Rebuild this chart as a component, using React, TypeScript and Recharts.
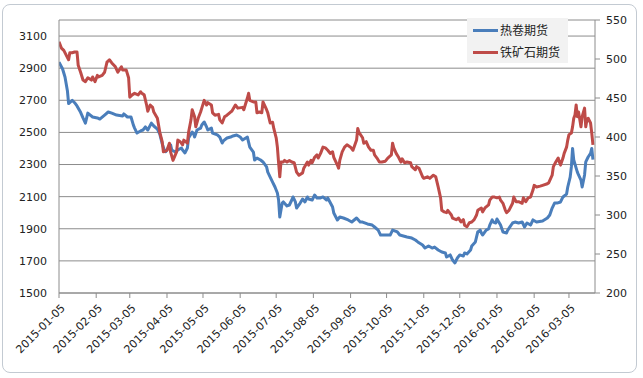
import React from "react";
import { LineChart, Line, XAxis, YAxis, CartesianGrid, Legend } from "recharts";

// x values are days counted from 2015-01-05 (the axis is a date axis)
const tickDays = [0, 31, 59, 90, 120, 151, 181, 212, 243, 273, 304, 334, 365, 396, 425];
const tickLabels = [
  "2015-01-05", "2015-02-05", "2015-03-05", "2015-04-05", "2015-05-05",
  "2015-06-05", "2015-07-05", "2015-08-05", "2015-09-05", "2015-10-05",
  "2015-11-05", "2015-12-05", "2016-01-05", "2016-02-05", "2016-03-05",
];

const leftTicks = [1500, 1700, 1900, 2100, 2300, 2500, 2700, 2900, 3100];
const rightTicks = [200, 250, 300, 350, 400, 450, 500, 550];

const hotName = "热卷期货";
const oreName = "铁矿石期货";

const hotDays = [
  0, 3, 5, 7, 8, 11, 13, 15, 18, 20, 22, 24, 28, 32, 34, 38, 41, 44, 48, 53,
  54, 57, 60, 62, 63, 65, 68, 70, 72, 74, 77, 79, 82, 84, 86, 88, 89, 91, 93, 94,
  97, 99, 102, 103, 105, 107, 108, 111, 112, 113, 115, 118, 119, 121, 123, 124, 127, 128, 132, 134,
  136, 137, 140, 143, 145, 148, 151, 153, 157, 158, 159, 162, 163, 165, 168, 170, 173, 174, 176, 178,
  180, 182, 183, 184, 186, 187, 190, 192, 194, 195, 197, 198, 201, 203, 205, 207, 208, 211, 213, 215,
  218, 220, 223, 224, 228, 229, 232, 234, 237, 241, 244, 248, 251, 253, 257, 261, 263, 266, 268, 272,
  276, 278, 282, 284, 287, 290, 294, 297, 299, 303, 305, 308, 311, 313, 316, 319, 322, 323, 326, 328,
  330, 332, 334, 337, 338, 340, 343, 344, 347, 348, 349, 351, 352, 353, 356, 358, 359, 361, 362, 364,
  365, 368, 370, 373, 374, 378, 380, 383, 386, 388, 390, 393, 395, 398, 403, 407, 409, 411, 413, 415,
  418, 420, 423, 424, 426, 427, 428, 429, 431, 432, 433, 435, 436, 438, 439, 441, 443, 444, 445,
];
const hotValues = [
  2938, 2895, 2845, 2760, 2680, 2700, 2685, 2665, 2625, 2590, 2558, 2620, 2596, 2590, 2583, 2608, 2627, 2620, 2608, 2602,
  2615, 2596, 2596, 2545, 2527, 2496, 2509, 2515, 2534, 2515, 2558, 2540, 2521, 2490, 2430, 2385, 2380, 2403, 2422, 2390,
  2378, 2390, 2403, 2390, 2372, 2403, 2465, 2502, 2496, 2471, 2515, 2527, 2546, 2565, 2534, 2515, 2527, 2496, 2484, 2471,
  2434, 2447, 2465, 2471, 2478, 2484, 2471, 2453, 2471, 2440, 2409, 2378, 2328, 2340, 2328, 2316, 2285, 2253, 2222, 2191,
  2160, 2123, 2079, 1973, 2060, 2067, 2042, 2048, 2079, 2098, 2067, 2029, 2060, 2085, 2067, 2098, 2085, 2079, 2110, 2092,
  2092, 2098, 2079, 2092, 2036, 1998, 1955, 1973, 1967, 1955, 1942, 1967, 1942, 1942, 1930, 1923, 1911, 1892, 1861, 1861,
  1861, 1892, 1880, 1861, 1855, 1849, 1842, 1830, 1818, 1799, 1780, 1793, 1780, 1786, 1768, 1755, 1749, 1724, 1737, 1705,
  1687, 1718, 1737, 1730, 1749, 1743, 1768, 1793, 1818, 1849, 1880, 1892, 1874, 1861, 1892, 1899, 1923, 1955, 1942, 1936,
  1961, 1923, 1880, 1874, 1892, 1936, 1942, 1936, 1942, 1911, 1936, 1923, 1955, 1942, 1948, 1967, 1986, 2029, 2060, 2060,
  2067, 2098, 2116, 2160, 2222, 2285, 2400, 2328, 2278, 2253, 2235, 2203, 2160, 2235, 2316, 2347, 2370, 2400, 2330,
];

const oreDays = [
  0, 2, 4, 6, 8, 9, 11, 13, 15, 16, 18, 20, 22, 24, 27, 28, 30, 32, 33, 36,
  38, 40, 42, 44, 47, 49, 52, 53, 56, 58, 59, 61, 63, 66, 68, 69, 71, 73, 74, 76,
  78, 79, 82, 84, 86, 87, 90, 92, 93, 95, 98, 99, 101, 103, 104, 107, 108, 110, 111, 113,
  114, 116, 118, 119, 121, 123, 124, 127, 128, 130, 133, 134, 136, 138, 140, 143, 144, 147, 149, 153,
  154, 157, 158, 159, 162, 164, 165, 167, 169, 170, 173, 174, 176, 178, 179, 181, 182, 183, 184, 185,
  187, 188, 190, 192, 194, 196, 198, 200, 203, 204, 207, 208, 210, 211, 213, 215, 216, 218, 220, 222,
  224, 226, 228, 229, 232, 233, 234, 236, 238, 240, 243, 245, 248, 249, 250, 253, 254, 256, 258, 260,
  262, 263, 265, 267, 269, 272, 274, 277, 278, 279, 281, 283, 285, 286, 288, 290, 293, 294, 297, 298,
  300, 303, 304, 307, 309, 312, 314, 316, 318, 319, 321, 323, 324, 327, 328, 331, 333, 335, 337, 338,
  340, 342, 344, 346, 348, 349, 352, 353, 355, 358, 359, 361, 363, 365, 367, 368, 370, 372, 373, 375,
  378, 379, 381, 383, 386, 387, 389, 391, 393, 395, 396, 398, 401, 403, 407, 408, 411, 412, 414, 416,
  417, 418, 420, 421, 423, 424, 425, 427, 428, 429, 430, 431, 432, 433, 435, 436, 438, 439, 440, 441,
  443, 444, 445,
];
const oreValues = [
  522, 514, 511, 505, 499, 508, 508, 509, 509, 492, 483, 473, 471, 476, 473, 477, 471, 479, 477, 479,
  483, 496, 499, 495, 490, 483, 490, 486, 486, 476, 451, 454, 456, 454, 458, 456, 454, 441, 433, 441,
  438, 432, 424, 406, 394, 381, 383, 392, 381, 370, 381, 396, 394, 390, 396, 392, 406, 422, 435, 426,
  413, 424, 432, 437, 447, 441, 444, 441, 431, 428, 429, 422, 418, 426, 428, 432, 433, 441, 437, 438,
  435, 450, 456, 447, 445, 445, 431, 432, 431, 445, 435, 431, 418, 419, 411, 399, 387, 367, 349, 368,
  368, 370, 368, 370, 368, 367, 355, 351, 354, 360, 368, 364, 370, 367, 374, 377, 373, 379, 387, 386,
  383, 379, 381, 374, 364, 360, 370, 381, 387, 390, 387, 383, 396, 411, 406, 399, 392, 394, 387, 383,
  383, 377, 373, 368, 368, 369, 373, 377, 392, 386, 379, 374, 368, 372, 367, 368, 367, 362, 358, 362,
  360, 349, 347, 349, 347, 351, 349, 336, 322, 306, 304, 303, 306, 300, 296, 294, 296, 291, 294, 287,
  285, 290, 291, 294, 300, 306, 309, 304, 309, 313, 319, 323, 323, 322, 323, 319, 315, 306, 303, 306,
  315, 323, 317, 317, 315, 322, 317, 322, 323, 332, 338, 336, 337, 338, 340, 341, 351, 362, 368, 373,
  368, 364, 373, 379, 387, 396, 403, 405, 413, 424, 428, 441, 426, 432, 413, 426, 437, 413, 422, 424,
  418, 405, 390,
];

const hotData = hotDays.map((d, i) => ({ day: d, value: hotValues[i] }));
const oreData = oreDays.map((d, i) => ({ day: d, value: oreValues[i] }));

const BLUE = "#4a7ebb";
const RED = "#be4b48";
const FONT = "'DejaVu Sans', Verdana, sans-serif";

function DateTick(props: any) {
  const { x, y, payload } = props;
  const label = tickLabels[tickDays.indexOf(payload.value)];
  const ax = x + 4;
  const ay = y + 6;
  return (
    <text
      x={ax}
      y={ay}
      dy="0.35em"
      textAnchor="end"
      transform={`rotate(-45 ${ax} ${ay})`}
      fontSize={11}
      fontFamily={FONT}
      fill="#222"
    >
      {label}
    </text>
  );
}

function LegendBox() {
  const rows = [
    { name: hotName, color: BLUE },
    { name: oreName, color: RED },
  ];
  return (
    <div style={{ background: "#f2f2f2", width: 101, height: 45, paddingTop: 1, boxSizing: "border-box" }}>
      {rows.map((r) => (
        <div key={r.name} style={{ display: "flex", alignItems: "center", height: 22 }}>
          <div style={{ width: 25, height: 3, background: r.color, marginLeft: 6, marginRight: 2 }} />
          <span style={{ fontSize: 12, color: "#222", fontFamily: "'Noto Sans CJK SC', sans-serif", lineHeight: "14px" }}>
            {r.name}
          </span>
        </div>
      ))}
    </div>
  );
}

export default function App() {
  return (
    <div style={{ position: "absolute", left: 0, top: 0, width: 643, height: 378, background: "#fff" }}>
      <div
        style={{
          position: "absolute",
          left: 2,
          top: 4,
          width: 635,
          height: 369,
          border: "1px solid #c3cad2",
          borderRadius: 8,
          boxSizing: "border-box",
        }}
      />
      <div style={{ position: "absolute", left: 0, top: 0 }}>
        <LineChart width={643} height={378} margin={{ top: 20, right: 0, bottom: 0, left: 0 }}>
          <CartesianGrid yAxisId="left" vertical={false} stroke="#8c8c8c" />
          <XAxis
            dataKey="day"
            type="number"
            domain={[0, 446.7]}
            ticks={tickDays}
            interval={0}
            height={85}
            allowDataOverflow
            stroke="#8c8c8c"
            tickSize={5}
            tickMargin={2}
            tick={<DateTick />}
          />
          <YAxis
            yAxisId="left"
            domain={[1500, 3200]}
            ticks={leftTicks}
            interval={0}
            width={59}
            stroke="#8c8c8c"
            tickLine={false}
            tickSize={0}
            tickMargin={12}
            tick={{ fontSize: 11, fontFamily: FONT, fill: "#222" }}
          />
          <YAxis
            yAxisId="right"
            orientation="right"
            domain={[200, 550]}
            ticks={rightTicks}
            interval={0}
            width={48}
            stroke="#8c8c8c"
            tickSize={5}
            tickMargin={6}
            tick={{ fontSize: 11, fontFamily: FONT, fill: "#222", textAnchor: "start" }}
          />
          <Legend
            layout="vertical"
            align="center"
            verticalAlign="middle"
            content={() => <LegendBox />}
            wrapperStyle={{ position: "absolute", left: 467, top: 18, width: 101, height: 45 }}
          />
          <Line
            yAxisId="left"
            data={hotData}
            dataKey="value"
            name={hotName}
            stroke={BLUE}
            strokeWidth={3}
            dot={false}
            isAnimationActive={false}
            strokeLinejoin="round"
          />
          <Line
            yAxisId="right"
            data={oreData}
            dataKey="value"
            name={oreName}
            stroke={RED}
            strokeWidth={3}
            dot={false}
            isAnimationActive={false}
            strokeLinejoin="round"
          />
        </LineChart>
      </div>
    </div>
  );
}
